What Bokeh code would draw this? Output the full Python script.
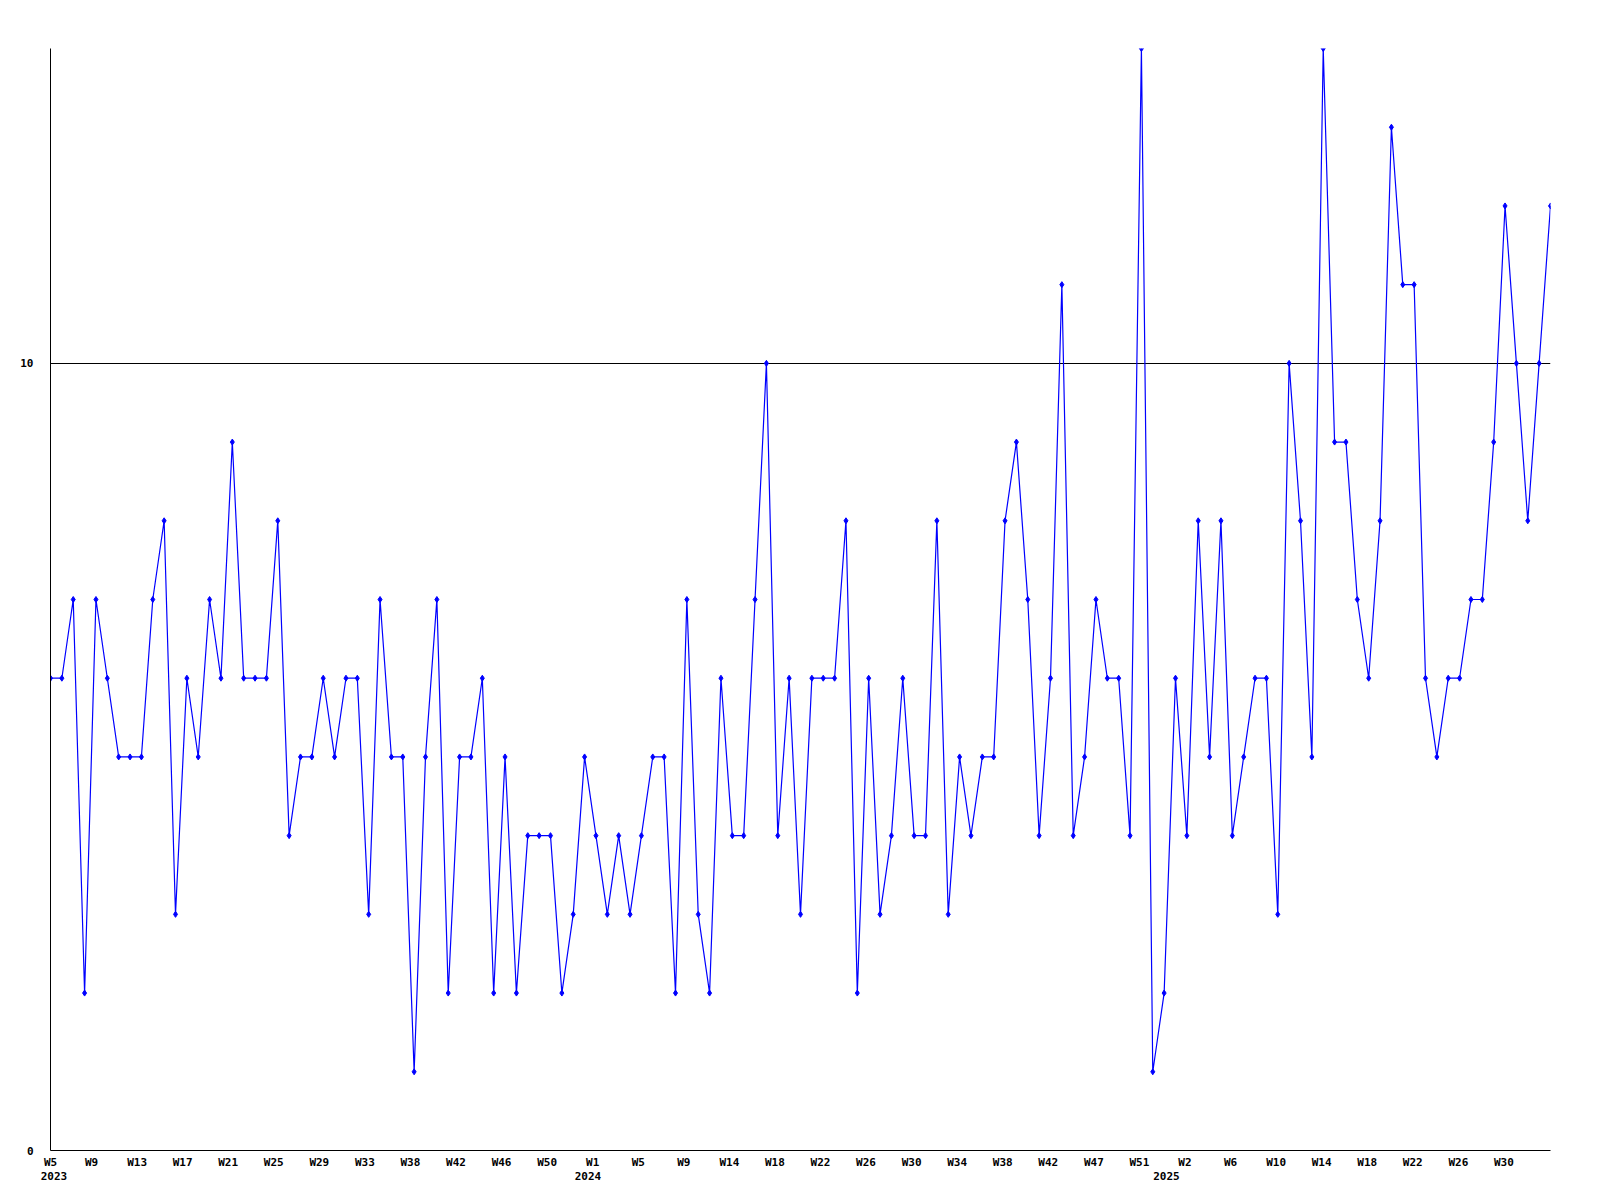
import numpy as np
from bokeh.plotting import figure
from bokeh.models import Range1d, FixedTicker, LinearAxis
from bokeh.embed import file_html
from bokeh.resources import INLINE

# weekly values, 2023 W5 .. 2025 (133 weeks)
values = [6, 6, 7, 2, 7, 6, 5, 5, 5, 7,
          8, 3, 6, 5, 7, 6, 9, 6, 6, 6,
          8, 4, 5, 5, 6, 5, 6, 6, 3, 7,
          5, 5, 1, 5, 7, 2, 5, 5, 6, 2,
          5, 2, 4, 4, 4, 2, 3, 5, 4, 3,
          4, 3, 4, 5, 5, 2, 7, 3, 2, 6,
          4, 4, 7, 10, 4, 6, 3, 6, 6, 6,
          8, 2, 6, 3, 4, 6, 4, 4, 8, 3,
          5, 4, 5, 5, 8, 9, 7, 4, 6, 11,
          4, 5, 7, 6, 6, 4, 14, 1, 2, 6,
          4, 8, 5, 8, 4, 5, 6, 6, 3, 10,
          8, 5, 14, 9, 9, 7, 6, 8, 13, 11,
          11, 6, 5, 6, 6, 7, 7, 9, 12, 10,
          8, 10, 12]

week_labels = ["W5", "W9", "W13", "W17", "W21", "W25", "W29", "W33", "W38", "W42", "W46", "W50",
               "W1", "W5", "W9", "W14", "W18", "W22", "W26", "W30", "W34", "W38", "W42", "W47", "W51",
               "W2", "W6", "W10", "W14", "W18", "W22", "W26", "W30"]
label_every = 4
years = ["2023", "2024", "2025"]
year_pos = [0.3, 47.3, 98.2]   # position (in weeks) of each year label

y_ticks = [0, 10]
y_max = 14

x = np.arange(len(values))
n_lab = len(week_labels)
# week labels sit slightly left of their week (drifting from -0.4 to -0.1 weeks)
tick_pos = [max(0.0, round(i * label_every - 0.4 + 0.3 * i / (n_lab - 1), 3)) for i in range(n_lab)]

p = figure(width=1584, height=1184, output_backend="svg", toolbar_location=None,
           x_range=Range1d(0, len(values) - 1), y_range=Range1d(0, y_max),
           min_border_left=50, min_border_right=34, min_border_top=48, min_border_bottom=34)
p.outline_line_color = None
p.background_fill_color = "white"
p.border_fill_color = "white"

p.xgrid.visible = False
p.ygrid.ticker = FixedTicker(ticks=[10])
p.ygrid.grid_line_color = "black"
p.ygrid.grid_line_alpha = 1.0
p.ygrid.grid_line_width = 1

p.yaxis.ticker = FixedTicker(ticks=y_ticks)
p.xaxis.ticker = FixedTicker(ticks=tick_pos)
p.xaxis.major_label_overrides = {t: lab for t, lab in zip(tick_pos, week_labels)}

year_axis = LinearAxis(ticker=FixedTicker(ticks=year_pos),
                       major_label_overrides={pos: yr for pos, yr in zip(year_pos, years)})
p.add_layout(year_axis, "below")

def style(ax):
    ax.major_tick_line_color = None
    ax.minor_tick_line_color = None
    ax.major_tick_out = 0
    ax.major_tick_in = 0
    ax.major_label_text_font = "DejaVu Sans Mono"
    ax.major_label_text_font_style = "bold"
    ax.major_label_text_font_size = "11px"
    ax.major_label_text_color = "black"

for ax in (p.xaxis[0], p.yaxis[0]):
    ax.axis_line_color = "black"
    ax.axis_line_width = 1
    style(ax)
style(year_axis)
year_axis.axis_line_color = None
year_axis.major_label_standoff = 0

p.xaxis[0].major_label_standoff = 5
p.yaxis.major_label_standoff = 17

p.line(x, values, line_color="#0000ff", line_width=1.2)
p.scatter(x, values, marker="diamond", size=6, fill_color="#0000ff", line_color="#0000ff")

open("out.html", "w").write(file_html(p, INLINE))
